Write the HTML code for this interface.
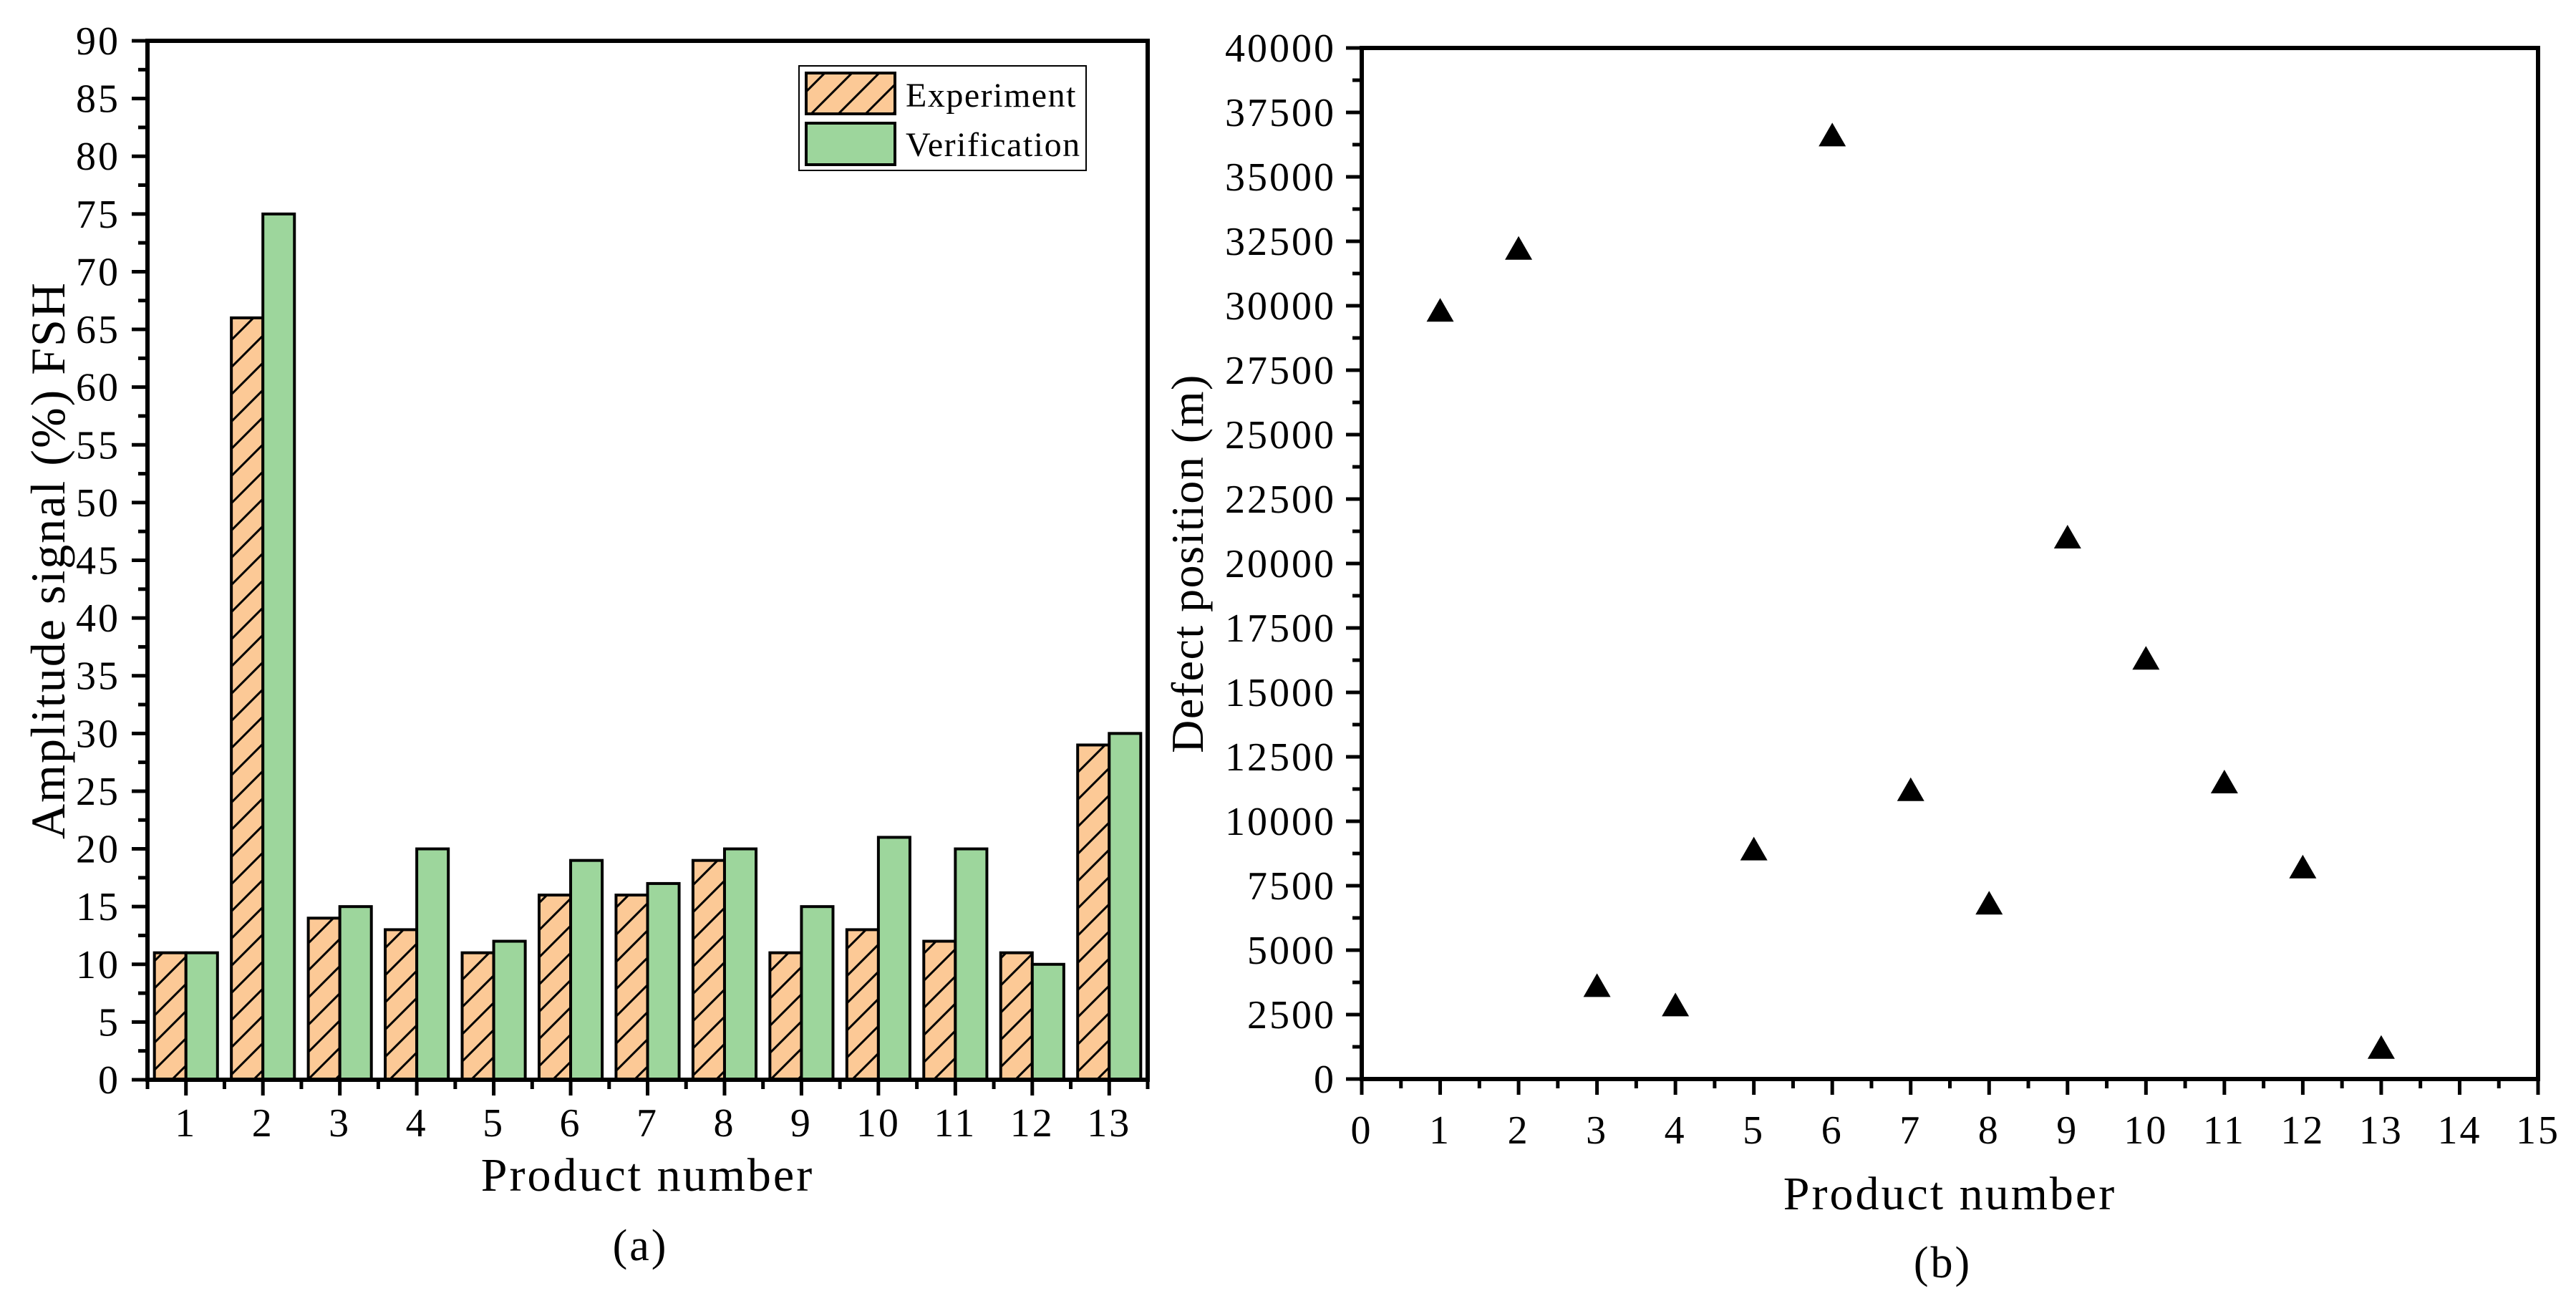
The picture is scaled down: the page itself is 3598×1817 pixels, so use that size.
<!DOCTYPE html>
<html><head><meta charset="utf-8"><style>
html,body{margin:0;padding:0;background:#fff;}
svg text{font-family:"Liberation Serif",serif;fill:#000;}
</style></head><body>
<svg id="svg" width="3598" height="1812" viewBox="0 0 3598 1812" xmlns="http://www.w3.org/2000/svg">
<defs>
<pattern id="hatch" patternUnits="userSpaceOnUse" width="38" height="38">
<rect width="38" height="38" fill="#FCC996"/>
<path d="M-5,43 L43,-5 M-24,24 L24,-24 M14,62 L62,14" stroke="#000" stroke-width="3"/>
</pattern>
</defs>
<g id="pa"></g>
<g id="pb"></g>
</svg>
<script>
const categoriesA=[1,2,3,4,5,6,7,8,9,10,11,12,13];
const experiment=[11,66,14,13,11,16,16,19,11,13,12,11,29];
const verification=[11,75,15,20,12,19,17,20,15,21,20,10,30];
const yTicksA=[0,5,10,15,20,25,30,35,40,45,50,55,60,65,70,75,80,85,90];
const productsB=[1,2,3,4,5,6,7,8,9,10,11,12,13];
const defectPos=[29800,32200,3600,2850,8900,36600,11200,6800,21000,16300,11500,8200,1200];
const xTicksB=[0,1,2,3,4,5,6,7,8,9,10,11,12,13,14,15];
const yTicksB=[0,2500,5000,7500,10000,12500,15000,17500,20000,22500,25000,27500,30000,32500,35000,37500,40000];

const NS="http://www.w3.org/2000/svg";
function mk(parent,tag,attrs,text){const e=document.createElementNS(NS,tag);for(const k in attrs)e.setAttribute(k,attrs[k]);if(text!==undefined)e.textContent=text;parent.appendChild(e);return e;}

// Panel A
const pa=document.getElementById('pa');
const aL=206,aR=1603,aT=57,aB=1508;
const n=categoriesA.length;
const bw=(aR-aL)/n;
const xA=i=>aL+bw*(i+0.5);
const yA=v=>aB-(v/90)*(aB-aT);
const barW=bw*0.41;
for(let i=0;i<n;i++){
  const r1=mk(pa,'rect',{x:xA(i)-barW,y:yA(experiment[i]),width:barW,height:aB-yA(experiment[i]),fill:'url(#hatch)',stroke:'#000','stroke-width':4});
  
  
  const r2=mk(pa,'rect',{x:xA(i),y:yA(verification[i]),width:barW,height:aB-yA(verification[i]),fill:'#9DD69C',stroke:'#000','stroke-width':4});
  
  
}
mk(pa,'rect',{x:aL,y:aT,width:aR-aL,height:aB-aT,fill:'none',stroke:'#000','stroke-width':6});
for(let i=0;i<n;i++){
  mk(pa,'line',{x1:xA(i),x2:xA(i),y1:aB,y2:aB+22,stroke:'#000','stroke-width':5});
  const t=mk(pa,'text',{x:xA(i),y:1587,'font-size':56,'letter-spacing':3,'text-anchor':'middle'},categoriesA[i]);
  
  
}
for(let i=0;i<=n;i++){
  const x=aL+bw*i;
  mk(pa,'line',{x1:x,x2:x,y1:aB,y2:aB+13,stroke:'#000','stroke-width':5});
}
yTicksA.forEach((v,i)=>{
  const y=yA(v);
  mk(pa,'line',{x1:aL-22,x2:aL,y1:y,y2:y,stroke:'#000','stroke-width':5});
  if(i<yTicksA.length-1){const ym=yA(v+2.5);mk(pa,'line',{x1:aL-13,x2:aL,y1:ym,y2:ym,stroke:'#000','stroke-width':5});}
  const t=mk(pa,'text',{x:168,y:y+19,'font-size':56,'letter-spacing':3,'text-anchor':'end'},v);
  
  
});
let t=mk(pa,'text',{x:(aL+aR)/2,y:1663,'font-size':66,'letter-spacing':3,'text-anchor':'middle'},'Product number');

t=mk(pa,'text',{x:0,y:0,'font-size':68,'letter-spacing':2,'text-anchor':'middle',transform:'translate(90,'+((aT+aB)/2)+') rotate(-90)'},'Amplitude signal (%) FSH');

t=mk(pa,'text',{x:(aL+aR)/2-10,y:1760,'font-size':62,'letter-spacing':3,'text-anchor':'middle'},'(a)');

// legend
const lg=mk(pa,'g',{});

mk(lg,'rect',{x:1116,y:92,width:401,height:146,fill:'#fff',stroke:'#000','stroke-width':2});
mk(lg,'rect',{x:1126,y:102,width:124,height:57,fill:'url(#hatch)',stroke:'#000','stroke-width':4});
mk(lg,'rect',{x:1126,y:172,width:124,height:58,fill:'#9DD69C',stroke:'#000','stroke-width':4});
t=mk(lg,'text',{x:1265,y:149,'font-size':48,'letter-spacing':1.5},'Experiment');

t=mk(lg,'text',{x:1265,y:218,'font-size':48,'letter-spacing':1.5},'Verification');


// Panel B
const pb=document.getElementById('pb');
const bL=1902,bR=3545,bT=67,bB=1507;
const xB=v=>bL+(v/15)*(bR-bL);
const yB=v=>bB-(v/40000)*(bB-bT);
mk(pb,'rect',{x:bL,y:bT,width:bR-bL,height:bB-bT,fill:'none',stroke:'#000','stroke-width':6});
xTicksB.forEach((v,i)=>{
  const x=xB(v);
  mk(pb,'line',{x1:x,x2:x,y1:bB,y2:bB+22,stroke:'#000','stroke-width':5});
  if(i<xTicksB.length-1){const xm=xB(v+0.5);mk(pb,'line',{x1:xm,x2:xm,y1:bB,y2:bB+13,stroke:'#000','stroke-width':5});}
  const tt=mk(pb,'text',{x:x,y:1597,'font-size':56,'letter-spacing':3,'text-anchor':'middle'},v);
  
  
});
yTicksB.forEach((v,i)=>{
  const y=yB(v);
  mk(pb,'line',{x1:bL-22,x2:bL,y1:y,y2:y,stroke:'#000','stroke-width':5});
  if(i<yTicksB.length-1){const ym=yB(v+1250);mk(pb,'line',{x1:bL-13,x2:bL,y1:ym,y2:ym,stroke:'#000','stroke-width':5});}
  const tt=mk(pb,'text',{x:1866,y:y+19,'font-size':56,'letter-spacing':3,'text-anchor':'end'},v);
  
  
});
productsB.forEach((p,i)=>{
  const cx=xB(p),cy=yB(defectPos[i]);
  const tri=mk(pb,'polygon',{points:(cx)+','+(cy-18)+' '+(cx-19)+','+(cy+15)+' '+(cx+19)+','+(cy+15),fill:'#000'});
  
  
});
t=mk(pb,'text',{x:(bL+bR)/2,y:1689,'font-size':66,'letter-spacing':3,'text-anchor':'middle'},'Product number');

t=mk(pb,'text',{x:0,y:0,'font-size':64,'letter-spacing':1.5,'text-anchor':'middle',transform:'translate(1680,'+((bT+bB)/2)+') rotate(-90)'},'Defect position (m)');

t=mk(pb,'text',{x:(bL+bR)/2-10,y:1784,'font-size':62,'letter-spacing':3,'text-anchor':'middle'},'(b)');

</script>
</body></html>
